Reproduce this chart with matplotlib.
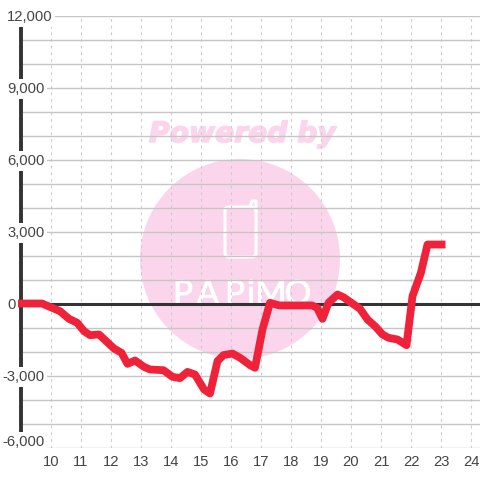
import matplotlib
matplotlib.use('Agg')
import matplotlib.pyplot as plt
import matplotlib.patheffects as pe
from matplotlib.lines import Line2D
from matplotlib.patches import Circle, FancyBboxPatch

plt.rcParams['font.family'] = ['Liberation Sans', 'DejaVu Sans']

# values
hours = [8.9, 9.7, 10.3, 10.6, 10.87, 11.1, 11.3, 11.6, 12.1, 12.35, 12.55, 12.8,
         13.1, 13.3, 13.75, 14.05, 14.3, 14.55, 14.8, 15.1, 15.3, 15.55, 15.75,
         16.05, 16.3, 16.65, 16.8, 17.05, 17.3, 17.6, 18.7, 18.87, 19.05, 19.25,
         19.55, 19.75, 20.3, 20.55, 20.8, 21.05, 21.25, 21.55, 21.85, 22.05,
         22.33, 22.55, 23.15]
values = [0, 0, -320, -640, -800, -1150, -1320, -1290, -1875, -2055, -2515, -2375,
          -2640, -2750, -2780, -3055, -3110, -2850, -2960, -3580, -3750, -2400, -2150,
          -2085, -2260, -2580, -2680, -1080, 30, -80, -80, -180, -640, 30,
          375, 260, -220, -667, -945, -1290, -1430, -1500, -1737, 305,
          1280, 2458, 2458]
x_ticks = list(range(10, 25))
y_grid = list(range(-6000, 13000, 1000))
y_labels = [12000, 9000, 6000, 3000, 0, -3000, -6000]

RED = '#f0223a'
PINK = '#fbd5ec'
DARK = '#333333'
TEXT = '#444444'
GRID = '#c6c6c6'

W = 480
fig = plt.figure(figsize=(4.8, 4.8), dpi=100)
ax = fig.add_axes([21 / W, 32.5 / W, 459 / W, 432 / W])
ax.set_xlim(9, 24.3)
ax.set_ylim(-6000, 12000)

# helper, picture pixels (y going down)
def px(x, y):
    return x / W, 1 - y / W

#----watermark
fig.patches.append(Circle((240 / W, 1 - 259 / W), 100 / W, transform=fig.transFigure,
                          facecolor=PINK, edgecolor='none', zorder=-5))
fig.patches.append(FancyBboxPatch((225 / W, 1 - 257 / W), 31 / W, 50 / W,
                                  boxstyle='round,pad=0,rounding_size=0.008',
                                  transform=fig.transFigure, facecolor='none',
                                  edgecolor='white', linewidth=2.2, zorder=-4))
# little antenna on the phone
fig.add_artist(Line2D([250 / W, 252 / W, 256 / W, 256 / W],
                      [1 - 207 / W, 1 - 201 / W, 1 - 201 / W, 1 - 210 / W],
                      color='white', linewidth=2.2, zorder=-4))
ax.patch.set_alpha(0)
fig.text(*px(242.5, 134), 'Powered by', color=PINK, fontsize=20.3, fontweight='bold',
         fontstyle='italic', family='DejaVu Sans', ha='center', va='center', zorder=-4,
         path_effects=[pe.withStroke(linewidth=1.1, foreground=PINK)])
for lx, ch in zip([183, 208, 235, 251, 271, 298], 'PAPiMO'):
    fig.text(*px(lx, 304), ch, color='white', fontsize=24, family='Lato',
             ha='center', va='baseline', zorder=-4,
             path_effects=[pe.withStroke(linewidth=0.6, foreground='white')])

#----grid
ax.set_xticks(x_ticks)
ax.set_yticks(y_grid)
ax.set_yticklabels([])
ax.tick_params(length=0, axis='both')
ax.tick_params(axis='x', labelsize=10.6, labelcolor=TEXT, pad=5.2)
ax.grid(axis='y', color=GRID, linewidth=1.0, zorder=1)
ax.grid(axis='x', color='#cccccc', linewidth=0.8, linestyle=(0, (2.5, 3.5)), zorder=1)
ax.set_axisbelow(True)
for s in ['top', 'right', 'bottom']:
    ax.spines[s].set_visible(False)
ax.spines['left'].set_color(DARK)
ax.spines['left'].set_linewidth(2.8)

#----zero line + series
ax.axhline(0, color=DARK, linewidth=2.2, zorder=3)
ax.plot(hours, values, color=RED, linewidth=5.6, solid_joinstyle='round',
        solid_capstyle='butt', zorder=4, clip_on=False)

#----y labels, left aligned with a white box over the axis
tr = ax.get_yaxis_transform()
for v in y_labels:
    left = 2 if v < 0 else 7
    # bottom label sits a bit above its gridline
    nudge = 290 if v == -6000 else 0
    ax.text((left - 21) / 459, v - 65 + nudge, f'{v:,}', transform=tr, ha='left', va='center',
            fontsize=10.6, color=TEXT, zorder=6,
            bbox=dict(facecolor='white', edgecolor='none', pad=2))
    if v == -6000:
        # white patch so the axis stops at the label, down to the gridline
        ax.plot([9, 9], [-6000, -5700], color='white', linewidth=3.2, zorder=5, clip_on=False)

fig.savefig('out.png', dpi=100)
